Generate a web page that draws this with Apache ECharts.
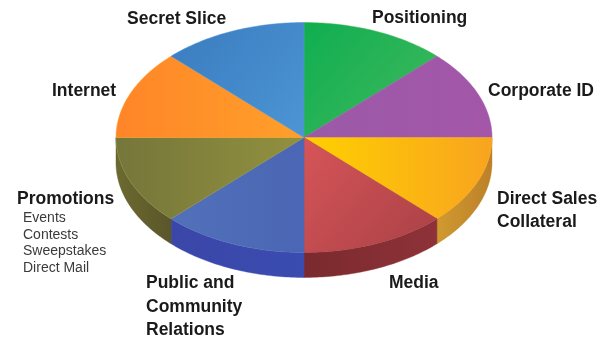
<!DOCTYPE html>
<html>
<head>
<meta charset="utf-8">
<style>html,body{margin:0;padding:0;background:#fff}#chart{width:602px;height:337px}</style>
<script src="https://cdn.jsdelivr.net/npm/echarts@6/dist/echarts.min.js"></script>
</head>
<body>
<div id="chart"></div>
<script>
// Eight equal budget slices, clockwise from twelve o'clock.
const sliceNames = ['Positioning', 'Corporate ID', 'Direct Sales Collateral', 'Media',
  'Public and Community Relations', 'Promotions', 'Internet', 'Secret Slice'];
const sliceValues = [12.5, 12.5, 12.5, 12.5, 12.5, 12.5, 12.5, 12.5];
const faceStops = [
  ['#0fae50', '#42b95e'], ['#a456a8', '#9a5aa8'], ['#ffd000', '#f8a41f'], ['#d65558', '#a94146'],
  ['#4a66b4', '#5270ba'], ['#75763a', '#92913f'], ['#ff8528', '#ffa02a'], ['#3a7cbf', '#4c95d5']
];
const wallStops = [
  null, null, ['#d09a30', '#bd8028'], ['#7a2a2e', '#8e3238'],
  ['#3b46a8', '#3a4cb0'], ['#6c6a30', '#5a562a'], null, null
];
const gradientAngles = [[0, 0, 1, 1], [1, 0, 0, 0], [0, 0, 1, 0], [0, 0, 1, 1],
  [1, 0, 0, 0], [0, 0, 1, 0], [0, 0, 1, 0], [0, 0, 1, 1]];

const promotionItems = ['Events', 'Contests', 'Sweepstakes', 'Direct Mail'];

// Disc thickness in units of the vertical radius.
const wallDepth = 0.217;
const total = sliceValues.reduce((a, b) => a + b, 0);

function rimPoint(turn, drop, api) {
  const t = turn * 2 * Math.PI;
  return api.coord([Math.sin(t), Math.cos(t) - drop]);
}

function linear(c, stops) {
  return new echarts.graphic.LinearGradient(c[0], c[1], c[2], c[3], [
    { offset: 0, color: stops[0] }, { offset: 1, color: stops[1] }
  ]);
}

function renderSlice(params, api) {
  const i = params.dataIndex;
  let before = 0;
  for (let k = 0; k < i; k++) before += sliceValues[k];
  const from = before / total;
  const to = (before + api.value(2)) / total;
  const children = [];

  // The wall only shows on the front half of the rim.
  const wFrom = Math.max(from, 0.25), wTo = Math.min(to, 0.75);
  if (wTo > wFrom && wallStops[i]) {
    const pts = [];
    for (let s = 0; s <= 48; s++) pts.push(rimPoint(wFrom + (wTo - wFrom) * s / 48, 0, api));
    for (let s = 48; s >= 0; s--) pts.push(rimPoint(wFrom + (wTo - wFrom) * s / 48, wallDepth, api));
    children.push({
      type: 'polygon', shape: { points: pts },
      style: { fill: linear([0, 0, 1, 0], wallStops[i]), stroke: wallStops[i][1], lineWidth: 0.4 }
    });
  }

  const face = [api.coord([0, 0])];
  for (let s = 0; s <= 48; s++) face.push(rimPoint(from + (to - from) * s / 48, 0, api));
  children.push({
    type: 'polygon', shape: { points: face },
    style: { fill: linear(gradientAngles[i], faceStops[i]), stroke: faceStops[i][1], lineWidth: 0.5 }
  });
  return { type: 'group', children };
}

function headLabel(text, x, y) {
  return {
    type: 'text', x, y,
    style: { text, fill: '#1a1a1a', font: 'bold 17.5px "Liberation Sans", Arial, sans-serif',
      lineHeight: 23.6, verticalAlign: 'middle' }
  };
}

const chart = echarts.init(document.getElementById('chart'));
chart.setOption({
  animation: false,
  grid: { left: 116, width: 376, top: 22.5, height: 258.75 },
  xAxis: { type: 'value', min: -1, max: 1, show: false },
  yAxis: { type: 'value', min: -1.25, max: 1, show: false },
  series: [{
    type: 'custom',
    renderItem: renderSlice,
    encode: { x: 0, y: 1 },
    data: sliceValues.map((v, i) => ({ name: sliceNames[i], value: [0, 0, v] }))
  }],
  graphic: [
    headLabel('Secret Slice', 127, 19),
    headLabel('Positioning', 372, 18),
    headLabel('Corporate ID', 488, 91),
    headLabel('Internet', 52, 91),
    headLabel('Direct Sales\nCollateral', 497, 210.5),
    headLabel('Media', 389, 283),
    headLabel('Promotions', 17, 199),
    headLabel('Public and\nCommunity\nRelations', 146, 307),
    {
      type: 'text', x: 23, y: 243,
      style: { text: promotionItems.join('\n'), fill: '#3a3a3a', font: '14px "Liberation Sans", Arial, sans-serif',
        lineHeight: 16.7, verticalAlign: 'middle' }
    }
  ]
});
</script>
</body>
</html>
